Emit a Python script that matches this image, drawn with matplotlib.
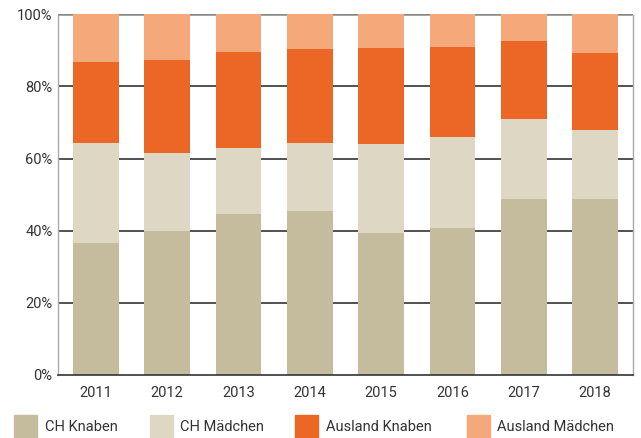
import matplotlib
matplotlib.use("Agg")
import matplotlib.pyplot as plt
from matplotlib.patches import Rectangle
import numpy as np

# ─── DATA ────────────────────────────────────────────────────────────────────
years = ["2011", "2012", "2013", "2014", "2015", "2016", "2017", "2018"]
ch_knaben = [36.6, 39.9, 44.6, 45.4, 39.3, 40.7, 48.8, 48.8]
ch_maedchen = [27.7, 21.6, 18.3, 18.9, 24.7, 25.2, 22.1, 19.1]
ausland_knaben = [22.4, 25.8, 26.6, 26.0, 26.6, 25.0, 21.6, 21.3]
ausland_maedchen = [13.3, 12.7, 10.5, 9.7, 9.4, 9.1, 7.5, 10.8]

series = [
    ("CH Knaben", ch_knaben, "#C5BC9E"),
    ("CH Mädchen", ch_maedchen, "#DDD7C3"),
    ("Ausland Knaben", ausland_knaben, "#EC6726"),
    ("Ausland Mädchen", ausland_maedchen, "#F5A97A"),
]

plt.rcParams["font.family"] = ["Roboto", "DejaVu Sans"]

fig = plt.figure(figsize=(6.41, 4.38), dpi=100)
W, H = 641, 438
ax = fig.add_axes([58 / W, 63 / H, (633 - 58) / W, (375 - 14.3) / H])

x = np.arange(len(years))
bottom = np.zeros(len(years))
for name, vals, color in series:
    ax.bar(x, vals, 0.64, bottom=bottom, color=color, zorder=2)
    bottom += np.array(vals)

ax.set_xlim(-0.53, 7.53)
ax.set_ylim(0, 100)
ax.set_yticks([0, 20, 40, 60, 80, 100])
ax.set_yticklabels(["0%", "20%", "40%", "60%", "80%", "100%"])
ax.set_xticks(x)
ax.set_xticklabels(years)
ax.tick_params(axis="both", length=0, labelsize=10.5, colors="#333333")
ax.tick_params(axis="x", pad=8)
ax.tick_params(axis="y", pad=4)

for yv in [20, 40, 60, 80]:
    ax.axhline(yv, color="#333333", lw=1.2, zorder=1)
ax.axhline(100, color="#888888", lw=1.8, zorder=1)

for s in ["top"]:
    ax.spines[s].set_visible(False)
ax.spines["bottom"].set_color("#333333")
ax.spines["bottom"].set_linewidth(1.2)
for s in ["left", "right"]:
    ax.spines[s].set_color("#aaaaaa")
    ax.spines[s].set_linestyle((0, (1, 1)))
    ax.spines[s].set_linewidth(1.0)

# legend
sq_x = [14, 150, 295, 467]
tx_x = [45, 180, 326, 497]
for (name, vals, color), sx, tx in zip(series, sq_x, tx_x):
    fig.patches.append(Rectangle((sx / W, (H - 438) / H), 23 / W, 23 / H,
                                 transform=fig.transFigure, color=color))
    fig.text(tx / W, (H - 427) / H, name, fontsize=10.5, color="#333333",
             va="center", ha="left")

plt.savefig("out.png", dpi=100)
